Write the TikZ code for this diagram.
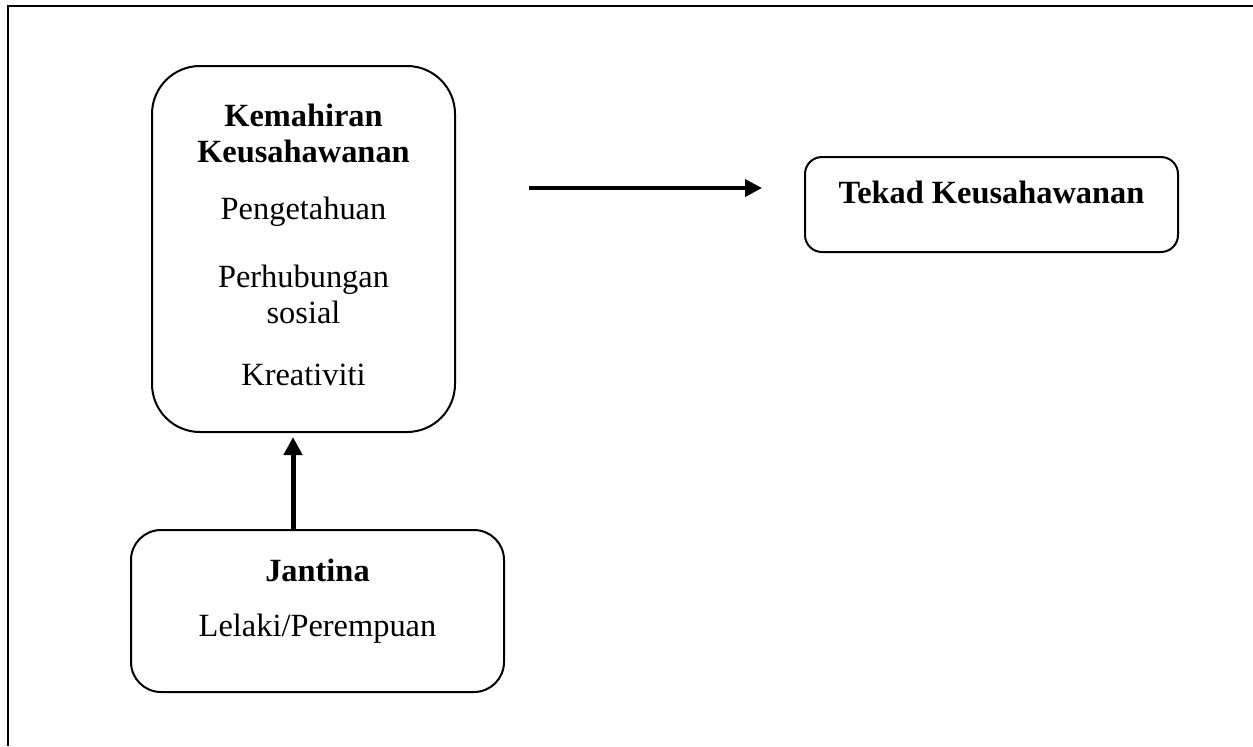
\documentclass[tikz,border=0pt]{standalone}
\usepackage{fontspec}
\setmainfont{Liberation Serif}
\usetikzlibrary{arrows.meta}

\begin{document}
\begin{tikzpicture}[x=0.5pt,y=-0.5pt,
   kotak/.style={draw,line width=1pt,align=center,inner sep=0pt,font=\fontsize{16.2}{18}\selectfont},
   panah/.style={line width=2pt,-{Triangle[length=8.5pt,width=8.5pt]}}]
 \useasboundingbox (0,0) rectangle (1253,746);
 \draw[line width=1.3pt] (8,746) -- (8,6) -- (1253,6);
 \node[kotak,rounded corners=24pt,minimum width=151.5pt,minimum height=183pt] (kemahiran) at (303.5,249)
   {\textbf{Kemahiran}\\\textbf{Keusahawanan}\\[10.5pt]Pengetahuan\\[16pt]Perhubungan\\sosial\\[13pt]Kreativiti\rule[-4.25pt]{0pt}{4.25pt}};
 \node[kotak,rounded corners=8.5pt,minimum width=186.5pt,minimum height=47.5pt] (tekad) at (991.5,204.5)
   {\textbf{Tekad Keusahawanan}\rule[-12.5pt]{0pt}{12.5pt}};
 \node[kotak,rounded corners=15pt,minimum width=186.5pt,minimum height=81pt] (jantina) at (317.5,611)
   {\textbf{Jantina}\\[9.5pt]Lelaki/Perempuan\rule[-13pt]{0pt}{13pt}};
 \coordinate (mula) at (529,188);
 \coordinate (hujung) at (762,188);
 \coordinate (puncak) at (293,437);
 \draw[panah] (mula) -- (hujung);
 \draw[panah,line width=2.5pt,-{Triangle[length=9pt,width=9pt]}] (puncak |- jantina.north) -- (puncak);
\end{tikzpicture}
\end{document}
